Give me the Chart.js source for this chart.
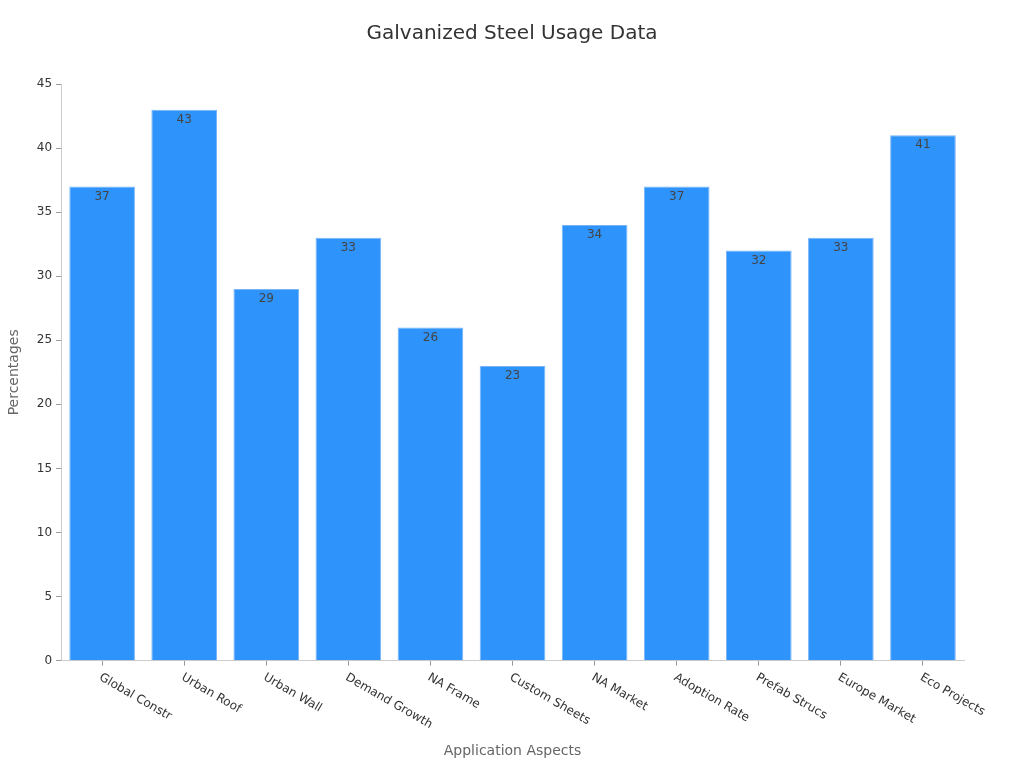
<!DOCTYPE html>
<html>
<head>
<meta charset="utf-8">
<script src="https://cdn.jsdelivr.net/npm/chart.js@4"></script>
<style>
html,body{margin:0;padding:0;background:#fff;}
#wrap{width:1024px;height:768px;}
</style>
</head>
<body>
<div id="wrap"><canvas id="c" width="1024" height="768"></canvas></div>
<script>
const categories = ["Global Constr","Urban Roof","Urban Wall","Demand Growth","NA Frame","Custom Sheets","NA Market","Adoption Rate","Prefab Strucs","Europe Market","Eco Projects"];
const values = [37,43,29,33,26,23,34,37,32,33,41];
const yTicks = [0,5,10,15,20,25,30,35,40,45];
const chartTitle = 'Galvanized Steel Usage Data';

const FONT = "'DejaVu Sans', sans-serif";

const barLabels = {
  id: 'barLabels',
  afterDatasetsDraw(chart) {
    const ctx = chart.ctx;
    const meta = chart.getDatasetMeta(0);
    ctx.save();
    ctx.font = "12px " + FONT;
    ctx.fillStyle = '#444';
    ctx.textAlign = 'center';
    ctx.textBaseline = 'middle';
    meta.data.forEach((bar, i) => {
      ctx.fillText(String(values[i]), bar.x, bar.y + 10);
    });
    ctx.restore();
  }
};

const xLabels = {
  id: 'xLabels',
  afterDraw(chart) {
    const ctx = chart.ctx;
    const xs = chart.scales.x;
    ctx.save();
    ctx.font = "12px " + FONT;
    ctx.fillStyle = '#333';
    ctx.textAlign = 'left';
    ctx.textBaseline = 'middle';
    categories.forEach((c, i) => {
      const x = xs.getPixelForTick(i);
      const y = xs.top + 16;
      ctx.save();
      ctx.translate(x - 2, y);
      ctx.rotate(Math.PI / 6);
      ctx.fillText(c, 0, 0);
      ctx.restore();
    });
    // title
    ctx.font = "20px " + FONT;
    ctx.fillStyle = '#333';
    ctx.textAlign = 'center';
    ctx.textBaseline = 'middle';
    ctx.fillText(chartTitle, chart.width / 2, 34);
    ctx.restore();
  }
};

new Chart(document.getElementById('c'), {
  type: 'bar',
  data: {
    labels: categories,
    datasets: [{
      data: values,
      backgroundColor: 'rgb(46,147,250)',
      borderColor: 'rgba(120,180,250,1)',
      borderWidth: 1,
      categoryPercentage: 0.8,
      barPercentage: 1.0
    }]
  },
  options: {
    responsive: false,
    animation: false,
    layout: { padding: { left: 2, right: 60, top: 84, bottom: 4 } },
    plugins: {
      legend: { display: false },
      tooltip: { enabled: false },
      title: { display: false }
    },
    scales: {
      x: {
        grid: { drawOnChartArea: false, drawTicks: true, tickLength: 5, color: '#999', offset: false },
        border: { color: '#ccc' },
        ticks: {
          color: 'transparent',
          font: { family: FONT, size: 12 },
          minRotation: 30, maxRotation: 30,
          autoSkip: false
        },
        title: {
          display: true,
          text: 'Application Aspects',
          color: '#666',
          font: { family: FONT, size: 14 },
          padding: { top: 10 }
        }
      },
      y: {
        min: 0, max: 45,
        afterBuildTicks(scale) { scale.ticks = yTicks.map(v => ({ value: v })); },
        grid: { drawOnChartArea: false, drawTicks: true, tickLength: 5, color: '#999' },
        border: { color: '#ccc' },
        ticks: {
          color: '#333',
          font: { family: FONT, size: 12 },
          padding: 4
        },
        title: {
          display: true,
          text: 'Percentages',
          color: '#666',
          font: { family: FONT, size: 14 },
          padding: { bottom: 10 }
        }
      }
    }
  },
  plugins: [barLabels, xLabels]
});
</script>
</body>
</html>
